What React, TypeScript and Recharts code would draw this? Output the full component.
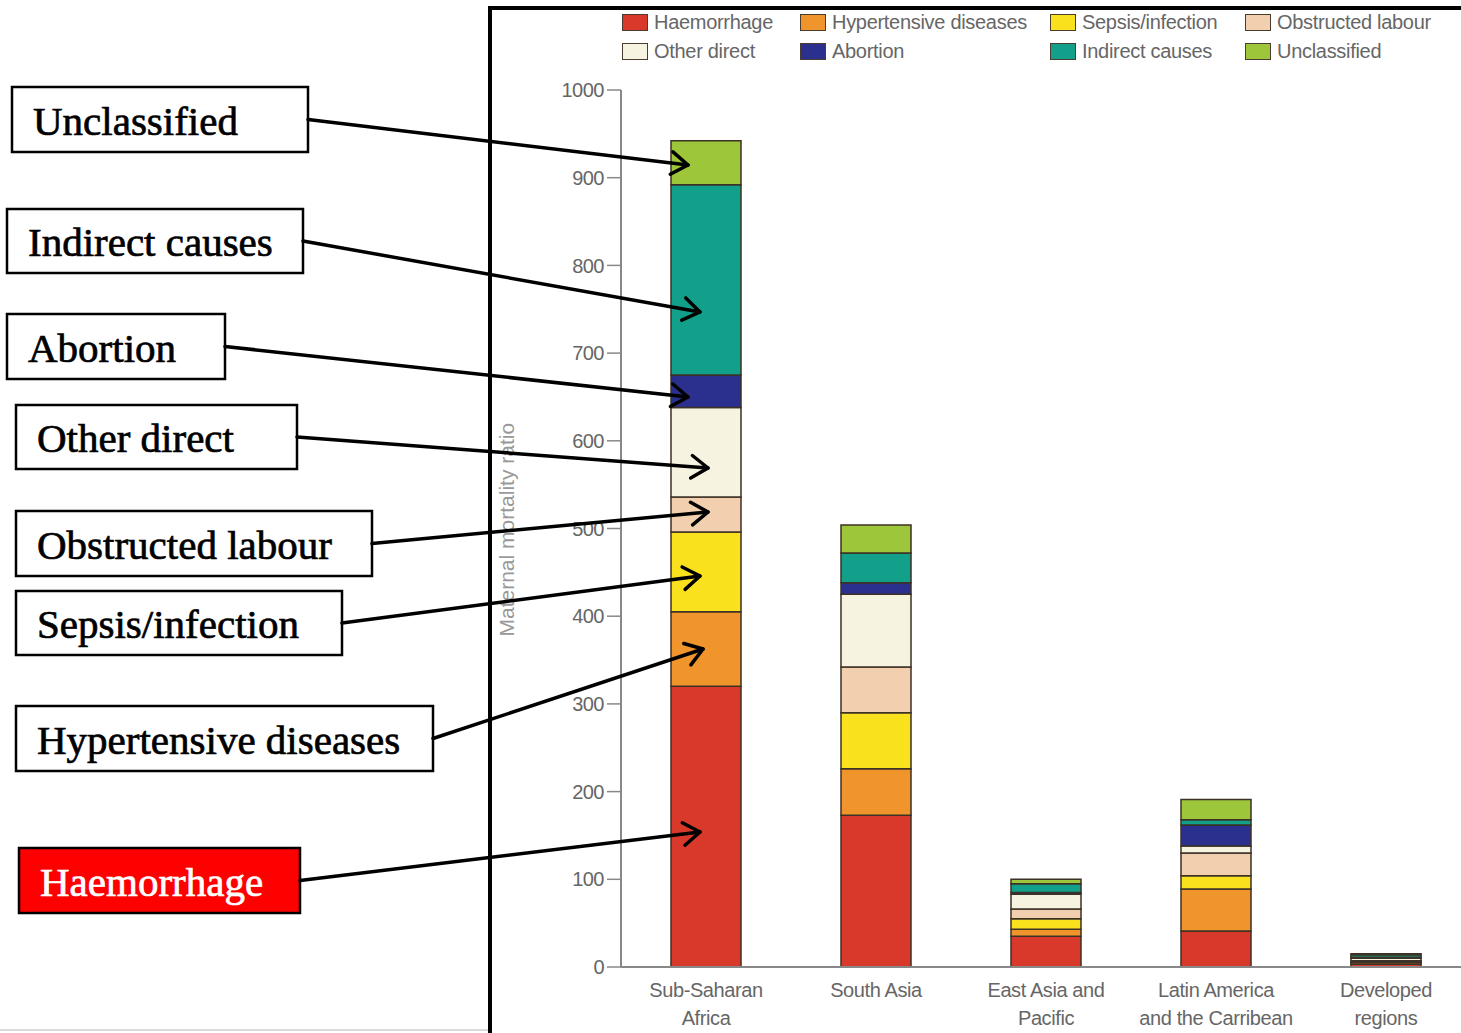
import React from 'react';
import { BarChart, Bar, XAxis, YAxis } from 'recharts';

// regions on the x axis
const categories = [
  'Sub-Saharan\nAfrica',
  'South Asia',
  'East Asia and\nPacific',
  'Latin America\nand the Carribean',
  'Developed\nregions',
];

// maternal mortality ratio by cause, stacked bottom to top
const haemorrhage = [320, 173, 35, 41, 3];
const hypertensive = [85, 53, 8, 48, 2];
const sepsis = [91, 64, 12, 15, 1];
const obstructed = [40, 52, 11, 26, 1];
const otherDirect = [102, 83, 17, 8, 3];
const abortion = [37, 13, 2, 24, 1];
const indirect = [217, 34, 10, 6, 3];
const unclassified = [50, 32, 5, 23, 1];

const yTicks = [0, 100, 200, 300, 400, 500, 600, 700, 800, 900, 1000];

const SERIES = [
  { key: 'haemorrhage', name: 'Haemorrhage', color: '#d8392b', values: haemorrhage },
  { key: 'hypertensive', name: 'Hypertensive diseases', color: '#f0952b', values: hypertensive },
  { key: 'sepsis', name: 'Sepsis/infection', color: '#f9e11e', values: sepsis },
  { key: 'obstructed', name: 'Obstructed labour', color: '#f2cfae', values: obstructed },
  { key: 'otherDirect', name: 'Other direct', color: '#f6f3e1', values: otherDirect },
  { key: 'abortion', name: 'Abortion', color: '#2b2f8e', values: abortion },
  { key: 'indirect', name: 'Indirect causes', color: '#13a08a', values: indirect },
  { key: 'unclassified', name: 'Unclassified', color: '#9dc63b', values: unclassified },
];

const chartData = categories.map((c, i) => {
  const row: Record<string, string | number> = { region: c };
  SERIES.forEach((s) => { row[s.key] = s.values[i]; });
  return row;
});

// callout boxes on the left, with the point each arrow lands on
const CALLOUTS = [
  { label: 'Unclassified', box: [12, 87, 296, 65], to: [688, 165] },
  { label: 'Indirect causes', box: [7, 209, 296, 64], to: [700, 312] },
  { label: 'Abortion', box: [7, 314, 218, 65], to: [688, 397] },
  { label: 'Other direct', box: [16, 405, 281, 64], to: [708, 468] },
  { label: 'Obstructed labour', box: [16, 511, 356, 65], to: [708, 512] },
  { label: 'Sepsis/infection', box: [16, 591, 326, 64], to: [700, 576] },
  { label: 'Hypertensive diseases', box: [16, 706, 417, 65], to: [703, 649] },
  { label: 'Haemorrhage', box: [19, 848, 281, 65], to: [700, 832], red: true },
];

const FONT = '"Liberation Sans", Arial, sans-serif';
const SERIF = '"Liberation Serif", "DejaVu Serif", serif';

const XTick = (props: any) => {
  const { x, y, payload } = props;
  const lines = String(payload.value).split('\n');
  return (
    <text x={x} y={y} textAnchor="middle" fill="#666" fontSize={20} fontFamily={FONT} letterSpacing={-0.4}>
      {lines.map((l, i) => (
        <tspan key={i} x={x} dy={28}>{l}</tspan>
      ))}
    </text>
  );
};

function LegendBox() {
  const cols = [0, 178, 428, 623];
  return (
    <div style={{ position: 'absolute', left: 622, top: 10, width: 850, height: 60 }}>
      {SERIES.map((s, i) => (
        <div
          key={s.key}
          style={{
            position: 'absolute', left: cols[i % 4], top: Math.floor(i / 4) * 29,
            display: 'flex', alignItems: 'center', fontFamily: FONT, fontSize: 20,
            letterSpacing: -0.3, color: '#666', whiteSpace: 'nowrap', lineHeight: '24px',
          }}
        >
          <span style={{
            display: 'inline-block', width: 24, height: 15, marginRight: 6,
            background: s.color, border: '1.5px solid #4a3d30',
          }} />
          {s.name}
        </div>
      ))}
    </div>
  );
}

function Arrow({ from, to }: { from: number[]; to: number[] }) {
  const [x1, y1] = from;
  const [x2, y2] = to;
  const a = Math.atan2(y2 - y1, x2 - x1);
  const len = 20;
  const spread = 0.6;
  const p1 = [x2 - len * Math.cos(a - spread), y2 - len * Math.sin(a - spread)];
  const p2 = [x2 - len * Math.cos(a + spread), y2 - len * Math.sin(a + spread)];
  return (
    <g stroke="#000" strokeWidth={3.5} fill="none" strokeLinecap="round" strokeLinejoin="round">
      <line x1={x1} y1={y1} x2={x2} y2={y2} />
      <polyline points={`${p1[0]},${p1[1]} ${x2},${y2} ${p2[0]},${p2[1]}`} />
    </g>
  );
}

export default function App() {
  return (
    <div style={{
      position: 'absolute', left: 0, top: 0, width: 1461, height: 1033,
      overflow: 'hidden', background: '#fff',
    }}>
      <div style={{ position: 'absolute', left: 490, top: 0 }}>
        <BarChart
          width={981}
          height={1033}
          data={chartData}
          margin={{ top: 90, right: 0, left: 71, bottom: 6 }}
          barSize={70}
        >
          <XAxis
            dataKey="region"
            interval={0}
            tickLine={false}
            tickSize={0}
            tick={<XTick />}
            height={60}
            axisLine={{ stroke: '#888', strokeWidth: 2 }}
          />
          <YAxis
            domain={[0, 1000]}
            ticks={yTicks}
            width={60}
            tickSize={14}
            tickMargin={3}
            interval={0}
            tick={{ fill: '#666', fontSize: 20, fontFamily: FONT, letterSpacing: -0.5 }}
            tickLine={{ stroke: '#888', strokeWidth: 1.5 }}
            axisLine={{ stroke: '#888', strokeWidth: 2 }}
            label={{
              value: 'Maternal mortality ratio', angle: -90, position: 'insideLeft',
              offset: -54, fill: '#999', fontSize: 21, fontFamily: FONT, dy: 108,
            }}
          />
          {SERIES.map((s) => (
            <Bar
              key={s.key}
              dataKey={s.key}
              name={s.name}
              stackId="a"
              fill={s.color}
              stroke="#3d3226"
              strokeWidth={1.5}
              isAnimationActive={false}
            />
          ))}
        </BarChart>
      </div>
      <LegendBox />
      <svg
        width={1461}
        height={1033}
        style={{ position: 'absolute', left: 0, top: 0, pointerEvents: 'none' }}
      >
        <line x1={490} y1={8} x2={1461} y2={8} stroke="#000" strokeWidth={4} />
        <line x1={490} y1={6} x2={490} y2={1033} stroke="#000" strokeWidth={4} />
        <line x1={0} y1={1030} x2={488} y2={1030} stroke="#ccc" strokeWidth={1.5} />
        {CALLOUTS.map((c) => {
          const [bx, by, bw, bh] = c.box;
          return (
            <g key={c.label}>
              <rect
                x={bx} y={by} width={bw} height={bh}
                fill={c.red ? '#ff0000' : '#fff'} stroke="#000" strokeWidth={2.5}
              />
              <text
                x={bx + 21} y={by + bh / 2 + 15}
                fontFamily={SERIF} fontSize={41}
                fill={c.red ? '#fff' : '#000'}
                stroke={c.red ? '#fff' : '#000'} strokeWidth={0.7}
              >
                {c.label}
              </text>
              <Arrow from={[bx + bw, by + bh / 2]} to={c.to} />
            </g>
          );
        })}
      </svg>
    </div>
  );
}
